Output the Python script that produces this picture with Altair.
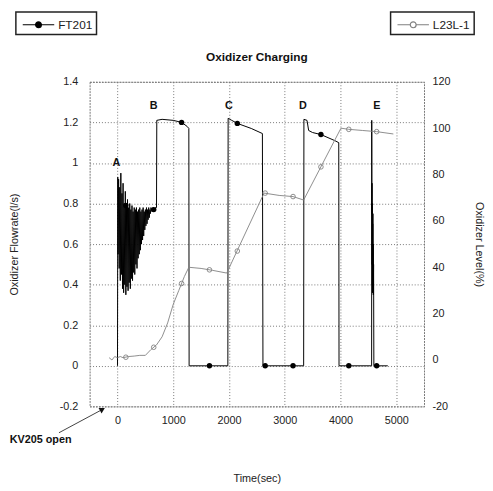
import altair as alt
import pandas as pd

FONT = "Liberation Sans"

# ---------------- data ----------------
# FT201 oxidizer flowrate (l/s) vs time (s)
ft_time = [0, 5,
           10, 20, 30, 40, 50, 60, 70, 80, 90, 100,
           110, 120, 130, 140, 150, 160, 170, 180, 190, 200,
           210, 220, 230, 240, 250, 260, 270, 280, 290, 300,
           310, 320, 330, 340, 350, 360, 370, 380, 390, 400,
           410, 420, 430, 440, 450, 460, 470, 480, 490, 500,
           510, 520, 530, 540, 550, 560, 570, 580, 590, 600,
           620, 640, 660, 680, 700,
           705, 800, 1000, 1150, 1250, 1280, 1285,
           1980, 1985, 2050, 2150, 2400, 2600, 2610,
           3340, 3345, 3400, 3430, 3500, 3650, 3900, 3970, 3975,
           4560, 4562, 4565, 4567, 4569, 4571, 4573, 4575, 4577, 4579,
           4581, 4583, 4585, 4588, 4590, 4595, 4600, 4850]
ft_flow = [0.0, 0.93,
           0.55, 0.92, 0.48, 0.88, 0.42, 0.95, 0.45, 0.85, 0.38, 0.90,
           0.36, 0.80, 0.40, 0.86, 0.35, 0.79, 0.39, 0.82, 0.37, 0.78,
           0.41, 0.80, 0.38, 0.77, 0.43, 0.79, 0.42, 0.76, 0.46, 0.78,
           0.45, 0.77, 0.50, 0.78, 0.48, 0.76, 0.53, 0.77, 0.55, 0.78,
           0.57, 0.76, 0.60, 0.77, 0.62, 0.78, 0.64, 0.76, 0.67, 0.77,
           0.69, 0.78, 0.70, 0.77, 0.72, 0.78, 0.73, 0.77, 0.75, 0.78,
           0.76, 0.78, 0.77, 0.78, 0.78,
           1.21, 1.215, 1.21, 1.20, 1.18, 1.17, 0.0,
           0.0, 1.22, 1.21, 1.195, 1.17, 1.145, 0.0,
           0.0, 1.215, 1.21, 1.16, 1.15, 1.14, 1.11, 1.10, 0.0,
           0.0, 1.21, 0.75, 0.90, 0.50, 0.80, 0.40, 0.78, 0.36, 0.70,
           0.45, 0.75, 0.38, 0.60, 0.35, 0.50, 0.0, 0.0]

# marker times (both series) and marker values
mk_time = [150, 650, 1150, 1650, 2150, 2650, 3150, 3650, 4150, 4650]
ft_mk_flow = [0.79, 0.77, 1.20, 0.0, 1.195, 0.0, 0.0, 1.14, 0.0, 0.0]

# L23L-1 oxidizer level (%) vs time (s)
lv_time = [-150, -100, -50, 0, 50, 100, 200, 300, 400, 500, 600, 700, 800, 900,
           1000, 1100, 1200, 1280, 1500, 1700, 1960, 2630, 2900, 3150, 3340,
           4010, 4150, 4400, 4650, 4950]
lv_level = [1.0, 0.0, 1.5, 1.0, 1.5, 1.0, 1.5, 1.7, 2.0, 2.0, 4.5, 6.5, 10.0, 16.0,
            24.0, 30.0, 36.0, 40.0, 39.5, 38.7, 37.5, 72.0, 71.0, 70.5, 69.0,
            100.0, 99.5, 99.0, 98.5, 97.5]
lv_mk_level = [1.2, 5.5, 33.0, 38.9, 47.0, 72.0, 70.5, 83.3, 99.5, 98.5]

x_ticks = [0, 1000, 2000, 3000, 4000, 5000]
flow_ticks = [-0.2, 0, 0.2, 0.4, 0.6, 0.8, 1.0, 1.2, 1.4]
level_ticks = [-20, 0, 20, 40, 60, 80, 100, 120]

letters = ["A", "B", "C", "D", "E"]
letter_time = [-20, 650, 1997, 3326, 4655]
letter_flow = [1.0, 1.28, 1.28, 1.28, 1.28]

note_text = ["KV205 open"]
note_time = [-1380]
note_flow = [-0.365]
arrow_from = [-1050, -0.33]
arrow_to = [-270, -0.215]

# ---------------- frames ----------------
ft_df = pd.DataFrame({"t": ft_time, "v": ft_flow, "i": list(range(len(ft_time))), "s": "FT201"})
ft_mk_df = pd.DataFrame({"t": mk_time, "v": ft_mk_flow})
lv_df = pd.DataFrame({"t": lv_time, "lvl": lv_level, "i": list(range(len(lv_time))), "s": "L23L-1"})
lv_mk_df = pd.DataFrame({"t": mk_time, "lvl": lv_mk_level})
let_df = pd.DataFrame({"t": letter_time, "v": letter_flow, "lab": letters})
note_df = pd.DataFrame({"t": note_time, "v": note_flow, "lab": note_text})
arr_df = pd.DataFrame({"t": [arrow_from[0]], "v": [arrow_from[1]],
                       "t2": [arrow_to[0]], "v2": [arrow_to[1]]})
head_df = pd.DataFrame({"t": [arrow_to[0]], "v": [arrow_to[1]]})

W, H = 340, 330

# ---------------- encodings ----------------
X = alt.X("t:Q",
          scale=alt.Scale(domain=[-500, 5500], nice=False, zero=False),
          axis=alt.Axis(values=x_ticks, labelExpr="toString(datum.value)",
                        title="Time(sec)", grid=True, labelPadding=8,
                        titleY=73, titleBaseline="middle"))
Y_ft = alt.Y("v:Q",
             scale=alt.Scale(domain=[-0.2, 1.4], nice=False, zero=False),
             axis=alt.Axis(values=flow_ticks,
                           labelExpr="toString(round(datum.value*10)/10)",
                           title="Oxidizer Flowrate(l/s)", grid=True,
                           labelPadding=12, titleAngle=-90, titleX=-76, titleY=H / 2,
                           titleAlign="center", titleBaseline="middle"))
Y_lv = alt.Y("lvl:Q",
             scale=alt.Scale(domain=[-20, 120], nice=False, zero=False),
             axis=alt.Axis(orient="right", values=level_ticks,
                           labelExpr="toString(datum.value)",
                           title="Oxidizer Level(%)", grid=False,
                           labelPadding=8, titleAngle=90, titleX=55, titleY=H / 2,
                           titleAlign="center", titleBaseline="middle"))

FT_PATH = ("M-0.75,0H3.25"
           "M0.875,0A0.375,0.375 0 1,0 1.625,0A0.375,0.375 0 1,0 0.875,0"
           "M1,0A0.25,0.25 0 1,0 1.5,0A0.25,0.25 0 1,0 1,0"
           "M1.125,0A0.125,0.125 0 1,0 1.375,0A0.125,0.125 0 1,0 1.125,0")
LV_PATH = ("M-0.75,0H0.875M1.625,0H3.25"
           "M0.875,0A0.375,0.375 0 1,0 1.625,0A0.375,0.375 0 1,0 0.875,0")

def legend(x, path):
    return alt.Legend(title=None, orient="none", legendX=x, legendY=-71,
                      symbolType=path, symbolSize=256, symbolStrokeWidth=1.2,
                      labelFont=FONT, labelFontSize=12, labelColor="#222",
                      labelOffset=21, padding=4, strokeColor="#222",
                      fillColor="white")

ft_line = alt.Chart(ft_df).mark_line(strokeWidth=1, clip=True).encode(
    x=X, y=Y_ft, order="i:Q",
    color=alt.Color("s:N", scale=alt.Scale(domain=["FT201"], range=["black"]),
                    legend=legend(-75, FT_PATH)))
ft_pts = alt.Chart(ft_mk_df).mark_point(filled=True, size=30, color="black",
                                        opacity=1).encode(x=X, y=Y_ft)
let_txt = alt.Chart(let_df).mark_text(font=FONT, fontSize=11, fontWeight="bold",
                                      color="#111").encode(x=X, y=Y_ft, text="lab:N")
note_txt = alt.Chart(note_df).mark_text(font=FONT, fontSize=11, fontWeight="bold",
                                        color="#111").encode(x=X, y=Y_ft, text="lab:N")
arrow = alt.Chart(arr_df).mark_rule(color="#111", strokeWidth=0.8).encode(
    x=X, y=Y_ft, x2="t2:Q", y2="v2:Q")
head = alt.Chart(head_df).mark_point(shape="triangle-up", filled=True, size=40,
                                     angle=61, color="#111", opacity=1).encode(x=X, y=Y_ft)

ft_group = alt.layer(ft_line, ft_pts, let_txt, note_txt, arrow, head)

lv_line = alt.Chart(lv_df).mark_line(strokeWidth=0.9, clip=True).encode(
    x=X, y=Y_lv, order="i:Q",
    color=alt.Color("s:N", scale=alt.Scale(domain=["L23L-1"], range=["#808080"]),
                    legend=legend(306, LV_PATH)))
lv_pts = alt.Chart(lv_mk_df).mark_point(shape="circle", filled=False, size=22,
                                        color="#808080", strokeWidth=0.9,
                                        opacity=1).encode(x=X, y=Y_lv)
lv_group = alt.layer(lv_line, lv_pts)

chart = alt.layer(ft_group, lv_group).resolve_scale(
    y="independent", color="independent"
).properties(
    width=W, height=H,
    title=alt.Title("Oxidizer Charging", font=FONT, fontSize=12, fontWeight="bold",
                    color="#111", offset=14, anchor="middle", dy=68),
    padding={"left": 83, "top": 71, "right": 485 - 83 - W, "bottom": 483 - 71 - H},
    autosize=alt.AutoSizeParams(type="none"),
).configure_view(
    stroke="#777777", strokeDash=[2, 1], strokeWidth=1
).configure_axis(
    labelFont=FONT, labelFontSize=11, labelColor="#222",
    titleFont=FONT, titleFontSize=11, titleFontWeight="normal", titleColor="#222",
    domain=False, ticks=False, gridColor="#777777", gridDash=[1, 2], gridOpacity=1
).configure_legend(
    strokeWidth=1.5
)

chart.save("out.html", embed_options={"renderer": "svg", "actions": False})
